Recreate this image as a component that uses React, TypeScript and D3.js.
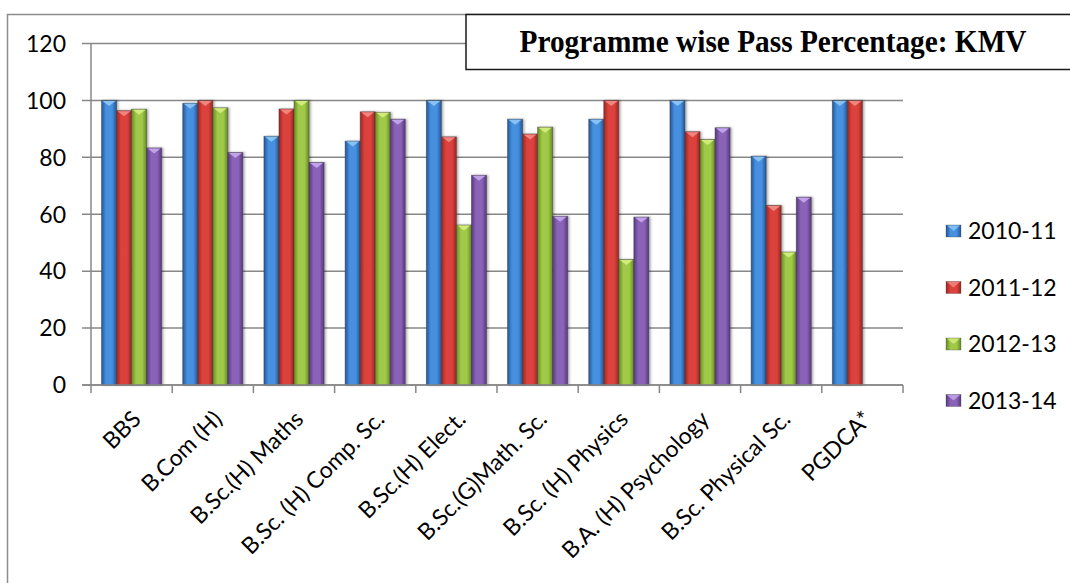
import React from "react";
import * as d3 from "d3";

const categories = [
  "BBS",
  "B.Com (H)",
  "B.Sc.(H) Maths",
  "B.Sc. (H) Comp. Sc.",
  "B.Sc.(H) Elect.",
  "B.Sc.(G)Math. Sc.",
  "B.Sc. (H) Physics",
  "B.A. (H) Psychology",
  "B.Sc. Physical Sc.",
  "PGDCA*",
];
const seriesNames = ["2010-11", "2011-12", "2012-13", "2013-14"];
const s2010: (number | null)[] = [100, 99, 87.4, 85.7, 100, 93.4, 93.4, 100, 80.4, 100];
const s2011: (number | null)[] = [96.4, 100, 97, 96, 87.2, 88.2, 100, 89, 63.1, 100];
const s2012: (number | null)[] = [96.9, 97.4, 100, 95.8, 56.2, 90.6, 44.1, 86.3, 46.7, null];
const s2013: (number | null)[] = [83.3, 81.7, 78.2, 93.4, 73.7, 59.3, 59.0, 90.4, 66.0, null];
const seriesValues = [s2010, s2011, s2012, s2013];
const yTicks = [0, 20, 40, 60, 80, 100, 120];
const title = "Programme  wise Pass Percentage: KMV";

const colors = [
  { mid: "#4690e0", edge: "#22579a", tip: "#8fc8f6" },
  { mid: "#dc433d", edge: "#9c2421", tip: "#f28c86" },
  { mid: "#a0c948", edge: "#668c22", tip: "#d6ee80" },
  { mid: "#8a63b8", edge: "#583880", tip: "#c6a8ee" },
];

const W = 1070;
const H = 583;
const left = 91;
const right = 903;
const top = 43.5;
const bottom = 385;

export default function App() {
  const y = d3.scaleLinear().domain([0, 120]).range([bottom, top]);
  const x0 = d3.scaleBand<string>().domain(categories).range([left, right]).paddingInner(0).paddingOuter(0);
  const x1 = d3
    .scaleBand<string>()
    .domain(seriesNames)
    .range([0, x0.bandwidth()])
    .paddingInner(0)
    .paddingOuter(0.7);
  const bw = x1.bandwidth();
  const labelFont = "Lato, 'Open Sans', sans-serif";

  return (
    <svg
      width={W}
      height={H}
      style={{ position: "absolute", left: 0, top: 0, background: "#fff" }}
      xmlns="http://www.w3.org/2000/svg"
    >
      <defs>
        {colors.map((c, i) => (
          <linearGradient key={i} id={`g${i}`} x1="0" y1="0" x2="1" y2="0">
            <stop offset="0" stopColor={c.edge} />
            <stop offset="0.3" stopColor={c.mid} />
            <stop offset="0.7" stopColor={c.mid} />
            <stop offset="1" stopColor={c.edge} />
          </linearGradient>
        ))}
        <filter id="sh" x="-20%" y="-5%" width="150%" height="110%">
          <feDropShadow dx="1.5" dy="0" stdDeviation="1" floodColor="#000" floodOpacity="0.35" />
        </filter>
      </defs>
      <rect x={0} y={0} width={W} height={H} fill="#fff" />
      {/* outer chart border */}
      <rect x={7.5} y={14.5} width={W + 20} height={H + 20} fill="none" stroke="#8c8c8c" strokeWidth={1.5} />

      {/* gridlines and y ticks */}
      {yTicks.map((t) => (
        <g key={t}>
          <line x1={left - 9} x2={right} y1={y(t)} y2={y(t)} stroke="#878787" strokeWidth={1.5} />
          <text
            x={66}
            y={y(t)}
            dy="0.36em"
            textAnchor="end"
            fontFamily={labelFont}
            fontSize={23}
            fill="#000"
          >
            {t}
          </text>
        </g>
      ))}
      {/* y axis */}
      <line x1={left} x2={left} y1={top} y2={bottom} stroke="#878787" strokeWidth={1.5} />
      {/* x ticks */}
      {categories.map((c) => (
        <line
          key={c}
          x1={x0(c) as number}
          x2={x0(c) as number}
          y1={bottom}
          y2={bottom + 8}
          stroke="#878787"
          strokeWidth={1.5}
        />
      ))}
      <line x1={right} x2={right} y1={bottom} y2={bottom + 8} stroke="#878787" strokeWidth={1.5} />

      {/* bars */}
      {categories.map((c, ci) => (
        <g key={c} transform={`translate(${x0(c)},0)`}>
          {seriesNames.map((s, si) => {
            const v = seriesValues[si][ci];
            if (v == null) return null;
            const bx = x1(s) as number;
            const by = y(v);
            const h = bottom - by;
            return (
              <g key={s}>
                <rect
                  x={bx}
                  y={by}
                  width={bw}
                  height={h}
                  fill={`url(#g${si})`}
                  stroke="rgba(60,60,60,0.55)"
                  strokeWidth={0.8}
                  filter="url(#sh)"
                />
                <path
                  d={`M${bx + 1},${by + 0.5}L${bx + bw - 1},${by + 0.5}L${bx + bw / 2},${by + 5.5}Z`}
                  fill={colors[si].tip}
                  opacity={0.9}
                />
              </g>
            );
          })}
        </g>
      ))}
      {/* x axis line */}
      <line x1={left - 9} x2={right} y1={bottom} y2={bottom} stroke="#878787" strokeWidth={1.5} />

      {/* category labels */}
      {categories.map((c) => {
        const cx = (x0(c) as number) + x0.bandwidth() / 2 + 5;
        const cy = bottom + 30;
        return (
          <text
            key={c}
            transform={`translate(${cx},${cy}) rotate(-45)`}
            textAnchor="end"
            dy="0.35em"
            fontFamily={labelFont}
            fontSize={23}
            fill="#000"
          >
            {c}
          </text>
        );
      })}

      {/* legend */}
      {seriesNames.map((s, i) => {
        const ly = 231 + i * 56.5;
        return (
          <g key={s}>
            <rect x={946} y={ly - 6} width={15} height={12} fill={`url(#g${i})`} stroke="rgba(60,60,60,0.5)" strokeWidth={0.6} />
            <path d={`M${947},${ly - 5.5}L${960},${ly - 5.5}L${953.5},${ly}Z`} fill={colors[i].tip} opacity={0.8} />
            <text x={968} y={ly} dy="0.36em" fontFamily={labelFont} fontSize={23} fill="#000">
              {s}
            </text>
          </g>
        );
      })}

      {/* title box */}
      <rect x={466} y={14.5} width={W} height={55} fill="#fff" stroke="#1a1a1a" strokeWidth={1.5} />
      <text
        x={773}
        y={52}
        textAnchor="middle"
        fontFamily="'Liberation Serif', 'Times New Roman', serif"
        fontWeight="bold"
        fontSize={31}
        textLength={507}
        lengthAdjust="spacingAndGlyphs"
        fill="#000"
      >
        {title}
      </text>
    </svg>
  );
}
